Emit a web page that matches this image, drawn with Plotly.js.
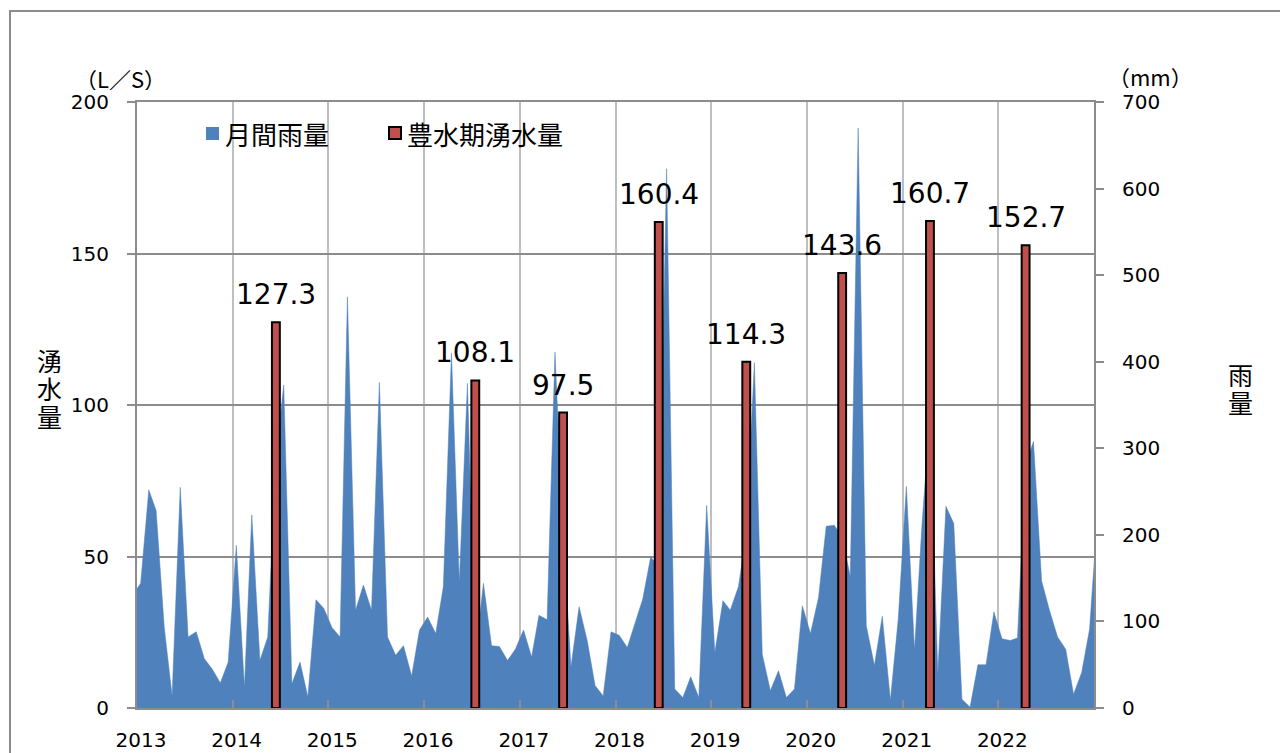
<!DOCTYPE html>
<html>
<head>
<meta charset="utf-8">
<script src="https://cdn.plot.ly/plotly-3.0.1.min.js"></script>
<style>
  html, body { margin: 0; padding: 0; background: #ffffff; }
  #chart { width: 1280px; height: 753px; }
</style>
</head>
<body>
<div id="chart"></div>
<script>
// ---------- data ----------
const years = [2013, 2014, 2015, 2016, 2017, 2018, 2019, 2020, 2021, 2022];
// monthly rainfall (mm), Jan..Dec
const rain2013 = [144, 252, 228, 93, 14, 255, 82, 88, 57, 45, 29, 53];
const rain2014 = [188, 24, 223, 55, 82, 290, 373, 28, 53, 13, 125, 115];
const rain2015 = [93, 82, 475, 113, 142, 113, 376, 82, 61, 72, 37, 90];
const rain2016 = [105, 86, 140, 410, 145, 375, 60, 144, 72, 71, 55, 68];
const rain2017 = [90, 59, 107, 102, 411, 200, 47, 117, 78, 26, 14, 88];
const rain2018 = [84, 70, 97, 126, 174, 165, 623, 22, 12, 36, 12, 234];
const rain2019 = [64, 124, 113, 140, 200, 399, 62, 20, 43, 12, 22, 118];
const rain2020 = [86, 128, 210, 211, 197, 152, 670, 95, 49, 106, 9, 103];
const rain2021 = [256, 67, 209, 340, 39, 233, 213, 10, 1, 50, 50, 111];
const rain2022 = [80, 78, 81, 280, 308, 147, 113, 82, 68, 16, 41, 91];
const rainYears = [rain2013, rain2014, rain2015, rain2016, rain2017, rain2018, rain2019, rain2020, rain2021, rain2022];
// neighbouring months, clipped at the plot edges
const rainDec2012 = 130;
const rainJan2023 = 226;

// spring water volume in the high-water season (L/S)
const peakMonths = ['2014-06', '2016-07', '2017-06', '2018-06', '2019-05', '2020-05', '2021-04', '2022-04'];
const springFlow = [127.3, 108.1, 97.5, 160.4, 114.3, 143.6, 160.7, 152.7];

const tickYears = years.map(String);
const seriesNames = ['月間雨量', '豊水期湧水量'];
const leftTitle = '湧水量';
const rightTitle = '雨量';

// ---------- build ----------
const pad2 = n => (n < 10 ? '0' : '') + n;
const rainX = ['2012-12-15'];
const rainY = [rainDec2012];
years.forEach((yr, k) => {
  rainYears[k].forEach((v, m) => {
    rainX.push(yr + '-' + pad2(m + 1) + '-15');
    rainY.push(v);
  });
});
rainX.push('2023-01-15');
rainY.push(rainJan2023);

const barX = peakMonths.map(m => m + '-15');

const BLUE = '#4F81BD';
const RED = '#C0504D';
const FONT = 'DejaVu Sans, Noto Sans CJK JP, sans-serif';
const CJK = 'Noto Sans CJK JP, DejaVu Sans, sans-serif';

const traces = [
  {
    type: 'scatter', mode: 'lines', name: seriesNames[0],
    x: rainX, y: rainY, yaxis: 'y',
    fill: 'tozeroy', fillcolor: BLUE,
    line: { color: BLUE, width: 0.5 },
    showlegend: false, hoverinfo: 'skip'
  },
  {
    type: 'bar', name: seriesNames[1],
    x: barX, y: springFlow, yaxis: 'y2',
    width: 30 * 86400000,
    marker: { color: RED, line: { color: '#000000', width: 2 } },
    showlegend: false, hoverinfo: 'skip'
  }
];

// plot area in pixels: left 137, right 1094, top 102, bottom 708
const L = 137, R = 1094, T = 102, B = 708;
const px = x => (x - L) / (R - L);
const py = y => (B - y) / (B - T);

const annotations = [];
// data labels
barX.forEach((x, i) => {
  annotations.push({
    x: x, y: springFlow[i], xref: 'x', yref: 'y2',
    text: springFlow[i].toFixed(1), showarrow: false,
    xanchor: 'center', yanchor: 'bottom', yshift: 9,
    font: { family: FONT, size: 28, color: '#000000' }
  });
});
// units
annotations.push({ x: px(120), y: py(78), xref: 'paper', yref: 'paper', text: '（L／S）', showarrow: false,
  xanchor: 'center', yanchor: 'middle', height: 24, valign: 'middle',
  font: { family: CJK, size: 22, color: '#000' } });
annotations.push({ x: px(1150), y: py(76), xref: 'paper', yref: 'paper', text: '（mm）', showarrow: false,
  xanchor: 'center', yanchor: 'middle', height: 24, valign: 'middle',
  font: { family: CJK, size: 22, color: '#000' } });
// vertical axis titles (characters stacked top to bottom)
const leftTitleY = [359, 387, 415];
leftTitle.split('').forEach((c, i) => annotations.push({ x: px(49), y: py(leftTitleY[i]), xref: 'paper', yref: 'paper',
  text: c, showarrow: false, xanchor: 'center', yanchor: 'middle', height: 27, valign: 'middle',
  font: { family: CJK, size: 25, color: '#000' } }));
const rightTitleY = [373, 401];
rightTitle.split('').forEach((c, i) => annotations.push({ x: px(1240), y: py(rightTitleY[i]), xref: 'paper', yref: 'paper',
  text: c, showarrow: false, xanchor: 'center', yanchor: 'middle', height: 27, valign: 'middle',
  font: { family: CJK, size: 25, color: '#000' } }));
// legend texts
annotations.push({ x: px(223), y: py(133), xref: 'paper', yref: 'paper', text: seriesNames[0], showarrow: false,
  xanchor: 'left', yanchor: 'middle', font: { family: CJK, size: 26, color: '#000' } });
annotations.push({ x: px(405), y: py(133), xref: 'paper', yref: 'paper', text: seriesNames[1], showarrow: false,
  xanchor: 'left', yanchor: 'middle', font: { family: CJK, size: 26, color: '#000' } });

const shapes = [
  // outer chart border
  { type: 'rect', xref: 'paper', yref: 'paper', x0: px(10), x1: px(1300), y0: py(780), y1: py(11),
    line: { color: '#8C8C8C', width: 2 }, fillcolor: 'rgba(0,0,0,0)', layer: 'below' },
  // legend keys
  { type: 'rect', xref: 'paper', yref: 'paper', x0: px(206), x1: px(219), y0: py(140), y1: py(127),
    line: { width: 0 }, fillcolor: BLUE },
  { type: 'rect', xref: 'paper', yref: 'paper', x0: px(389), x1: px(401), y0: py(139), y1: py(127),
    line: { color: '#000', width: 2 }, fillcolor: RED }
];

const layout = {
  width: 1280, height: 753,
  margin: { l: L, r: 1280 - R, t: T, b: 753 - B, pad: 0 },
  paper_bgcolor: '#ffffff', plot_bgcolor: '#ffffff',
  font: { family: FONT, size: 20, color: '#000000' },
  showlegend: false,
  hovermode: false,
  bargap: 0,
  xaxis: {
    type: 'date',
    range: ['2013-01-01', '2023-01-01'],
    tickmode: 'array',
    tickvals: years.map(y => y + '-01-01'),
    ticktext: tickYears,
    ticks: 'inside', ticklen: 8, tickwidth: 2, tickcolor: '#8C8C8C',
    showgrid: true, gridcolor: '#BFBFBF', gridwidth: 2,
    showline: true, linecolor: '#8C8C8C', linewidth: 2, mirror: true,
    tickfont: { family: FONT, size: 20, color: '#000' },
    ticklabelshift: 4, ticklabelstandoff: 13,
    zeroline: false, fixedrange: true
  },
  yaxis: {
    side: 'right',
    range: [0, 700], dtick: 100, tick0: 0,
    ticks: 'outside', ticklen: 8, tickwidth: 2, tickcolor: '#8C8C8C',
    showgrid: false,
    showline: true, linecolor: '#8C8C8C', linewidth: 2,
    tickfont: { family: FONT, size: 20, color: '#000' },
    ticklabelstandoff: 14,
    zeroline: false, fixedrange: true
  },
  yaxis2: {
    overlaying: 'y', side: 'left',
    range: [0, 200], dtick: 50, tick0: 0,
    ticks: 'outside', ticklen: 8, tickwidth: 2, tickcolor: '#8C8C8C',
    showgrid: true, gridcolor: '#8C8C8C', gridwidth: 2,
    showline: true, linecolor: '#8C8C8C', linewidth: 2,
    tickfont: { family: FONT, size: 20, color: '#000' },
    ticklabelstandoff: 14,
    zeroline: false, fixedrange: true
  },
  annotations: annotations,
  shapes: shapes
};

Plotly.newPlot('chart', traces, layout, { staticPlot: true, displayModeBar: false });
</script>
</body>
</html>
